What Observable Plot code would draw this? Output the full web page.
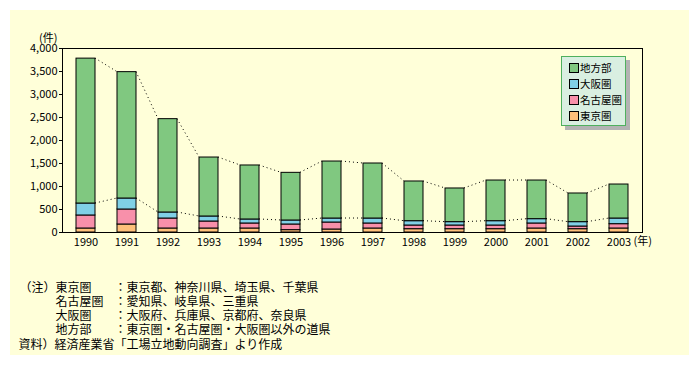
<!DOCTYPE html>
<html><head><meta charset="utf-8">
<script src="https://cdn.jsdelivr.net/npm/d3@7"></script>
<script src="https://cdn.jsdelivr.net/npm/@observablehq/plot@0.6"></script>
<style>
body{margin:0;background:#fff;font-family:"Noto Sans CJK JP",sans-serif;color:#000;}
#wrap{position:relative;width:700px;height:365px;overflow:hidden;}
#panel{position:absolute;left:10px;top:10px;width:679px;height:345px;background:#ffffd9;}
#chart{position:absolute;left:0;top:0;}
#legend{position:absolute;left:561px;top:56px;width:63px;height:68px;background:#d9efe1;border:1px solid #4fb05e;box-shadow:4px 4px 0 #b3b3b3;}
.lrow{position:absolute;left:0;height:14px;line-height:14px;font-size:10.5px;white-space:nowrap;}
.sw{position:absolute;left:7px;top:2px;width:8px;height:8px;border:1px solid #000;}
.lt{position:absolute;left:18px;top:0;}
#notes{position:absolute;left:0;top:0;font-size:12px;}
.nl{position:absolute;height:12px;line-height:12px;white-space:nowrap;}
</style>
</head><body>
<div id="wrap">
  <div id="panel"></div>
  <div id="chart"></div>
  <div id="legend"></div>
  <div id="notes"></div>
</div>
<script>
const years = ["1990","1991","1992","1993","1994","1995","1996","1997","1998","1999","2000","2001","2002","2003"];
const seriesNames = ["東京圏","名古屋圏","大阪圏","地方部"];
const tokyo  = [87,174,87,87,87,51,65,87,72,72,72,87,72,87];
const nagoya = [283,326,217,152,109,123,152,109,80,80,80,109,58,94];
const osaka  = [260,239,131,109,87,87,87,108,94,73,94,94,95,123];
const chiho  = [3150,2747,2029,1282,1174,1036,1239,1196,863,732,884,840,623,739];
const seriesColors = ["#ffc07a","#f890aa","#80d0e6","#80c880"];
const yTicks = [0,500,1000,1500,2000,2500,3000,3500,4000];
const unitY = "(件)";
const unitX = "(年)";
const noteHead = "（注）";
const noteNames = ["東京圏","名古屋圏","大阪圏","地方部"];
const noteDescs = ["：東京都、神奈川県、埼玉県、千葉県","：愛知県、岐阜県、三重県","：大阪府、兵庫県、京都府、奈良県","：東京圏・名古屋圏・大阪圏以外の道県"];
const sourceText = "資料）経済産業省「工場立地動向調査」より作成";

const seriesValues = [tokyo, nagoya, osaka, chiho];
const rows = [];
seriesNames.forEach((s, k) => years.forEach((yr, i) => rows.push({year: yr, series: s, value: seriesValues[k][i]})));
const metroTop = years.map((_, i) => tokyo[i] + nagoya[i] + osaka[i]);
const totalTop = years.map((_, i) => metroTop[i] + chiho[i]);

function seriesLines(index, scales) {
  const x = scales.x, y = scales.y;
  const bw = x.bandwidth ? x.bandwidth() : 0;
  const g = d3.create("svg:g").attr("stroke", "#000").attr("stroke-width", 1).attr("stroke-dasharray", "1,3").attr("fill", "none");
  for (const vals of [totalTop, metroTop]) {
    for (let i = 0; i < years.length - 1; i++) {
      g.append("line")
        .attr("x1", x(years[i]) + bw).attr("y1", y(vals[i]))
        .attr("x2", x(years[i + 1])).attr("y2", y(vals[i + 1]));
    }
  }
  return g.node();
}

const chart = Plot.plot({
  width: 700, height: 260,
  marginLeft: 62, marginRight: 58, marginTop: 48, marginBottom: 28,
  style: {background: "transparent", fontSize: "11px", fontFamily: "'Noto Sans CJK JP', sans-serif", color: "#000"},
  x: {type: "band", domain: years, paddingInner: 0.54, paddingOuter: 0.27, label: null, tickSize: 0, tickPadding: 6},
  y: {domain: [0, 4000], ticks: yTicks, tickFormat: d3.format(","), tickSize: 3, tickPadding: 2, label: null},
  color: {domain: seriesNames, range: seriesColors},
  marks: [
    Plot.barY(rows, {x: "year", y: "value", fill: "series", stroke: "#000", strokeWidth: 1, order: seriesNames}),
    seriesLines,
    Plot.frame({stroke: "#000"}),
    Plot.text([unitY], {frameAnchor: "top-left", text: d => d, textAnchor: "end", dx: -5, dy: -14, fill: "#000"}),
    Plot.text([unitX], {frameAnchor: "bottom-right", text: d => d, textAnchor: "start", dx: -9, dy: 12, fill: "#000"})
  ]
});
document.getElementById("chart").appendChild(chart);

// legend (top series first)
const legend = document.getElementById("legend");
[...seriesNames].reverse().forEach((name, i) => {
  const c = seriesColors[seriesNames.indexOf(name)];
  const r = document.createElement("div");
  r.className = "lrow";
  r.style.top = (4 + i * 16.1) + "px";
  r.innerHTML = `<span class="sw" style="background:${c}"></span><span class="lt">${name}</span>`;
  legend.appendChild(r);
});

// notes
const notes = document.getElementById("notes");
const baseY = 280.5, step = 14.3;
function addLine(text, left, top) {
  const d = document.createElement("div");
  d.className = "nl"; d.textContent = text;
  d.style.left = left + "px"; d.style.top = top + "px";
  notes.appendChild(d);
}
addLine(noteHead, 19.5, baseY);
noteNames.forEach((n, i) => {
  addLine(n, 55.5, baseY + i * step);
  addLine(noteDescs[i], 114.5, baseY + i * step);
});
addLine(sourceText, 18.5, baseY + 4 * step);
</script>
</body></html>
